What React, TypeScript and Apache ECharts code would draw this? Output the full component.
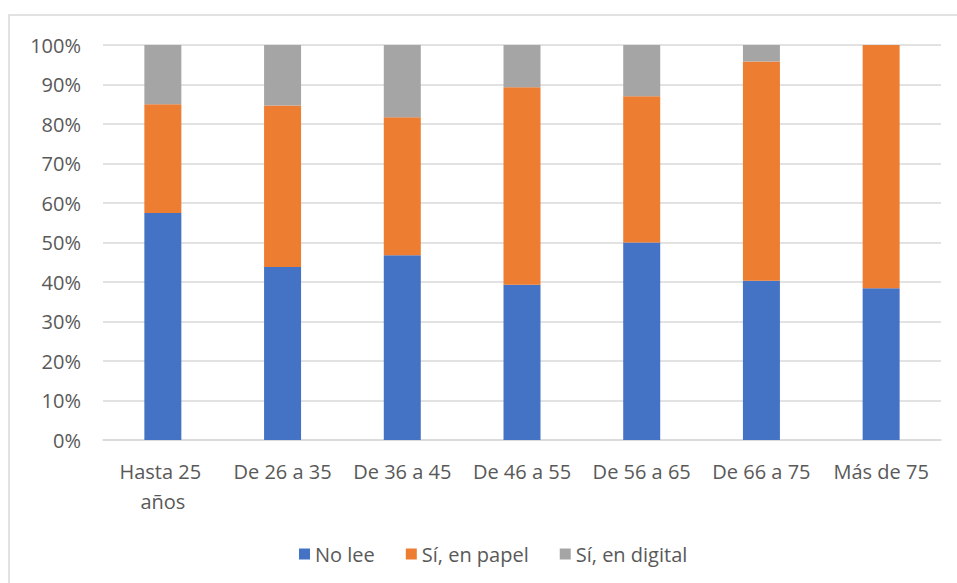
import React, { useEffect, useRef } from "react";
import * as echarts from "echarts";

const categories = [
  "Hasta 25 años",
  "De 26 a 35",
  "De 36 a 45",
  "De 46 a 55",
  "De 56 a 65",
  "De 66 a 75",
  "Más de 75",
];
const noLee = [57.5, 43.8, 46.8, 39.3, 50.0, 40.3, 38.4];
const enPapel = [27.5, 40.9, 34.9, 50.0, 37.0, 55.5, 61.6];
const enDigital = [15.0, 15.3, 18.3, 10.7, 13.0, 4.2, 0];
const seriesNames = ["No lee", "Sí, en papel", "Sí, en digital"];
const colors = ["#4472C4", "#ED7D31", "#A5A5A5"];

const FONT = "'Open Sans', 'Noto Sans', sans-serif";
const TEXT = "#595959";

export default function App() {
  const ref = useRef<HTMLDivElement>(null);

  useEffect(() => {
    if (!ref.current) return;
    const chart = echarts.init(ref.current, undefined, { renderer: "svg" });
    const values = [noLee, enPapel, enDigital];
    chart.setOption({
      animation: false,
      backgroundColor: "#ffffff",
      color: colors,
      textStyle: { fontFamily: FONT, color: TEXT },
      graphic: [
        {
          type: "rect",
          shape: { x: 9, y: 15, width: 1000, height: 700 },
          style: { fill: "none", stroke: "#d9d9d9", lineWidth: 1.5 },
          silent: true,
          z: -10,
        },
      ],
      grid: { left: 103, right: 16, top: 45, bottom: 143 },
      legend: {
        left: 294,
        top: 539,
        itemWidth: 11,
        itemHeight: 11,
        itemGap: 31,
        icon: "rect",
        textStyle: { fontFamily: FONT, fontSize: 20, color: TEXT, padding: [0, 0, 0, 0] },
        data: seriesNames,
      },
      xAxis: {
        type: "category",
        data: categories,
        axisLine: { show: true, lineStyle: { color: "#d9d9d9", width: 1.5 } },
        axisTick: { show: false },
        axisLabel: {
          interval: 0,
          margin: 16,
          fontSize: 20,
          lineHeight: 30,
          color: TEXT,
          fontFamily: FONT,
          width: 112,
          overflow: "break",
        },
      },
      yAxis: {
        type: "value",
        min: 0,
        max: 100,
        interval: 10,
        axisLine: { show: false },
        axisTick: { show: false },
        splitLine: { lineStyle: { color: "#d9d9d9", width: 1.5 } },
        axisLabel: {
          formatter: "{value}%",
          margin: 22,
          fontSize: 20,
          color: TEXT,
          fontFamily: FONT,
        },
      },
      series: seriesNames.map((name, i) => ({
        name,
        type: "bar",
        stack: "total",
        barWidth: 37,
        data: values[i],
        itemStyle: { color: colors[i] },
      })),
    });
    return () => chart.dispose();
  }, []);

  return (
    <div
      ref={ref}
      style={{ position: "fixed", left: 0, top: 0, width: 957, height: 583, background: "#fff" }}
    />
  );
}
